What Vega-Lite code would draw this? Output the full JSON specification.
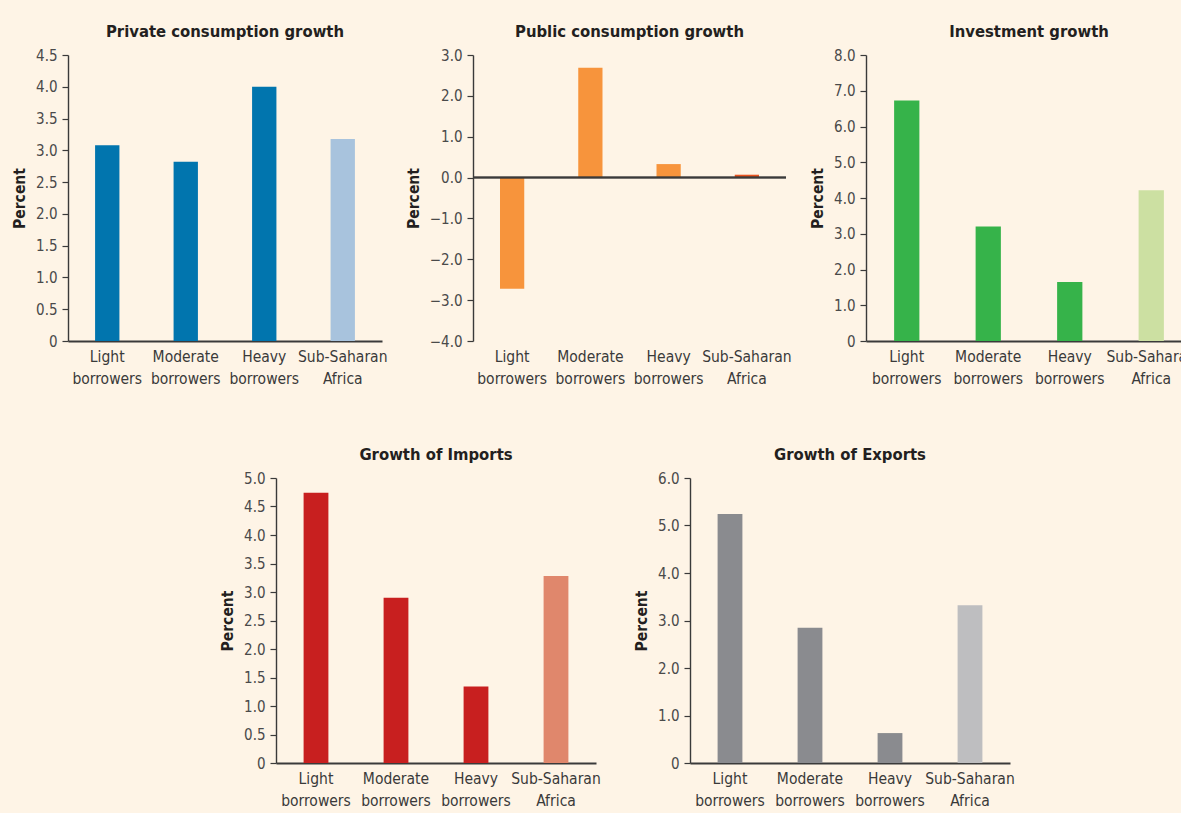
{
  "$schema": "https://vega.github.io/schema/vega-lite/v6.json",
  "background": "#FEF4E6",
  "padding": {"left": 12, "top": 23, "right": 0, "bottom": 20},
  "config": {
    "view": {"stroke": null},
    "font": "DejaVu Sans Condensed",
    "title": {"font": "DejaVu Sans Condensed", "fontSize": 16.5, "fontWeight": "bold", "color": "#231F20", "anchor": "middle", "offset": 8},
    "axisY": {"grid": false, "domainColor": "#3a3a3a", "domainWidth": 1.4, "tickColor": "#3a3a3a", "tickSize": 6, "tickWidth": 1.2, "labelFont": "DejaVu Sans Condensed", "labelFontSize": 15, "labelColor": "#4a4a4a", "labelPadding": 5, "labelOverlap": false, "titleFont": "DejaVu Sans Condensed", "titleFontSize": 15.5, "titleFontWeight": "bold", "titleColor": "#231F20", "titlePadding": 8},
    "axisX": {"grid": false, "ticks": false, "domainColor": "#3a3a3a", "domainWidth": 1.8, "labelAngle": 0, "labelFont": "DejaVu Sans Condensed", "labelFontSize": 15.5, "labelColor": "#3a3a3a", "labelLineHeight": 22, "labelPadding": 8, "labelBaseline": "top", "title": null, "labelExpr": "split(datum.label, ' ')"}
  },
  "datasets": {
    "growth": [
      {"indicator": "Private", "category": "Light borrowers", "group": "Borrowers", "value": 3.08},
      {"indicator": "Private", "category": "Moderate borrowers", "group": "Borrowers", "value": 2.82},
      {"indicator": "Private", "category": "Heavy borrowers", "group": "Borrowers", "value": 4.0},
      {"indicator": "Private", "category": "Sub-Saharan Africa", "group": "Sub-Saharan Africa", "value": 3.18},
      {"indicator": "Public", "category": "Light borrowers", "group": "Borrowers", "value": -2.72},
      {"indicator": "Public", "category": "Moderate borrowers", "group": "Borrowers", "value": 2.69},
      {"indicator": "Public", "category": "Heavy borrowers", "group": "Borrowers", "value": 0.33},
      {"indicator": "Public", "category": "Sub-Saharan Africa", "group": "Sub-Saharan Africa", "value": 0.07},
      {"indicator": "Investment", "category": "Light borrowers", "group": "Borrowers", "value": 6.73},
      {"indicator": "Investment", "category": "Moderate borrowers", "group": "Borrowers", "value": 3.2},
      {"indicator": "Investment", "category": "Heavy borrowers", "group": "Borrowers", "value": 1.65},
      {"indicator": "Investment", "category": "Sub-Saharan Africa", "group": "Sub-Saharan Africa", "value": 4.22},
      {"indicator": "Imports", "category": "Light borrowers", "group": "Borrowers", "value": 4.74},
      {"indicator": "Imports", "category": "Moderate borrowers", "group": "Borrowers", "value": 2.9},
      {"indicator": "Imports", "category": "Heavy borrowers", "group": "Borrowers", "value": 1.34},
      {"indicator": "Imports", "category": "Sub-Saharan Africa", "group": "Sub-Saharan Africa", "value": 3.28},
      {"indicator": "Exports", "category": "Light borrowers", "group": "Borrowers", "value": 5.24},
      {"indicator": "Exports", "category": "Moderate borrowers", "group": "Borrowers", "value": 2.85},
      {"indicator": "Exports", "category": "Heavy borrowers", "group": "Borrowers", "value": 0.63},
      {"indicator": "Exports", "category": "Sub-Saharan Africa", "group": "Sub-Saharan Africa", "value": 3.32}
    ]
  },
  "spacing": 423,
  "bounds": "flush",
  "vconcat": [
    {
      "spacing": 91,
      "bounds": "flush",
      "hconcat": [
        {
          "width": 314, "height": 286,
          "title": "Private consumption growth",
          "data": {"name": "growth"},
          "transform": [{"filter": "datum.indicator == 'Private'"}],
          "mark": {"type": "bar", "width": {"band": 0.31}},
          "encoding": {
            "x": {"field": "category", "type": "nominal", "sort": null, "scale": {"paddingInner": 0, "paddingOuter": 0}},
            "y": {"field": "value", "type": "quantitative", "title": "Percent", "scale": {"domain": [0, 4.5], "nice": false}, "axis": {"values": [0, 0.5, 1, 1.5, 2, 2.5, 3, 3.5, 4, 4.5], "labelExpr": "datum.value == 0 ? '0' : format(datum.value, '.1f')"}},
            "color": {"condition": {"test": "datum.group == 'Sub-Saharan Africa'", "value": "#A8C3DD"}, "value": "#0175AE"}
          }
        },
        {
          "spacing": 80,
          "bounds": "flush",
          "hconcat": [
            {
              "width": 313, "height": 286,
              "title": "Public consumption growth",
              "data": {"name": "growth"},
              "transform": [{"filter": "datum.indicator == 'Public'"}],
              "layer": [
                {
                  "mark": {"type": "bar", "width": {"band": 0.31}},
                  "encoding": {
                    "x": {"field": "category", "type": "nominal", "sort": null, "scale": {"paddingInner": 0, "paddingOuter": 0}, "axis": {"domain": false}},
                    "y": {"field": "value", "type": "quantitative", "title": "Percent", "scale": {"domain": [-4, 3], "nice": false}, "axis": {"values": [-4, -3, -2, -1, 0, 1, 2, 3], "format": ".1f"}},
                    "color": {"condition": {"test": "datum.group == 'Sub-Saharan Africa'", "value": "#E8531F"}, "value": "#F7943C"}
                  }
                },
                {
                  "mark": {"type": "rule", "color": "#3a3a3a", "strokeWidth": 1.5},
                  "encoding": {"y": {"datum": 0}}
                }
              ]
            },
            {
              "width": 326, "height": 286,
              "title": "Investment growth",
              "data": {"name": "growth"},
              "transform": [{"filter": "datum.indicator == 'Investment'"}],
              "mark": {"type": "bar", "width": {"band": 0.31}},
              "encoding": {
                "x": {"field": "category", "type": "nominal", "sort": null, "scale": {"paddingInner": 0, "paddingOuter": 0}},
                "y": {"field": "value", "type": "quantitative", "title": "Percent", "scale": {"domain": [0, 8], "nice": false}, "axis": {"values": [0, 1, 2, 3, 4, 5, 6, 7, 8], "labelExpr": "datum.value == 0 ? '0' : format(datum.value, '.1f')"}},
                "color": {"condition": {"test": "datum.group == 'Sub-Saharan Africa'", "value": "#CCE0A2"}, "value": "#36B34A"}
              }
            }
          ]
        }
      ]
    },
    {
      "spacing": 94,
      "bounds": "flush",
      "hconcat": [
        {
          "width": 114, "height": 285,
          "data": {"values": []},
          "mark": {"type": "point", "opacity": 0}
        },
        {
          "width": 320, "height": 285,
          "title": "Growth of Imports",
          "data": {"name": "growth"},
          "transform": [{"filter": "datum.indicator == 'Imports'"}],
          "mark": {"type": "bar", "width": {"band": 0.31}},
          "encoding": {
            "x": {"field": "category", "type": "nominal", "sort": null, "scale": {"paddingInner": 0, "paddingOuter": 0}},
            "y": {"field": "value", "type": "quantitative", "title": "Percent", "scale": {"domain": [0, 5], "nice": false}, "axis": {"values": [0, 0.5, 1, 1.5, 2, 2.5, 3, 3.5, 4, 4.5, 5], "labelExpr": "datum.value == 0 ? '0' : format(datum.value, '.1f')"}},
            "color": {"condition": {"test": "datum.group == 'Sub-Saharan Africa'", "value": "#E0876C"}, "value": "#C81F1F"}
          }
        },
        {
          "width": 320, "height": 285,
          "title": "Growth of Exports",
          "data": {"name": "growth"},
          "transform": [{"filter": "datum.indicator == 'Exports'"}],
          "mark": {"type": "bar", "width": {"band": 0.31}},
          "encoding": {
            "x": {"field": "category", "type": "nominal", "sort": null, "scale": {"paddingInner": 0, "paddingOuter": 0}},
            "y": {"field": "value", "type": "quantitative", "title": "Percent", "scale": {"domain": [0, 6], "nice": false}, "axis": {"values": [0, 1, 2, 3, 4, 5, 6], "labelExpr": "datum.value == 0 ? '0' : format(datum.value, '.1f')"}},
            "color": {"condition": {"test": "datum.group == 'Sub-Saharan Africa'", "value": "#BEBEC0"}, "value": "#8A8B8F"}
          }
        }
      ]
    }
  ]
}
